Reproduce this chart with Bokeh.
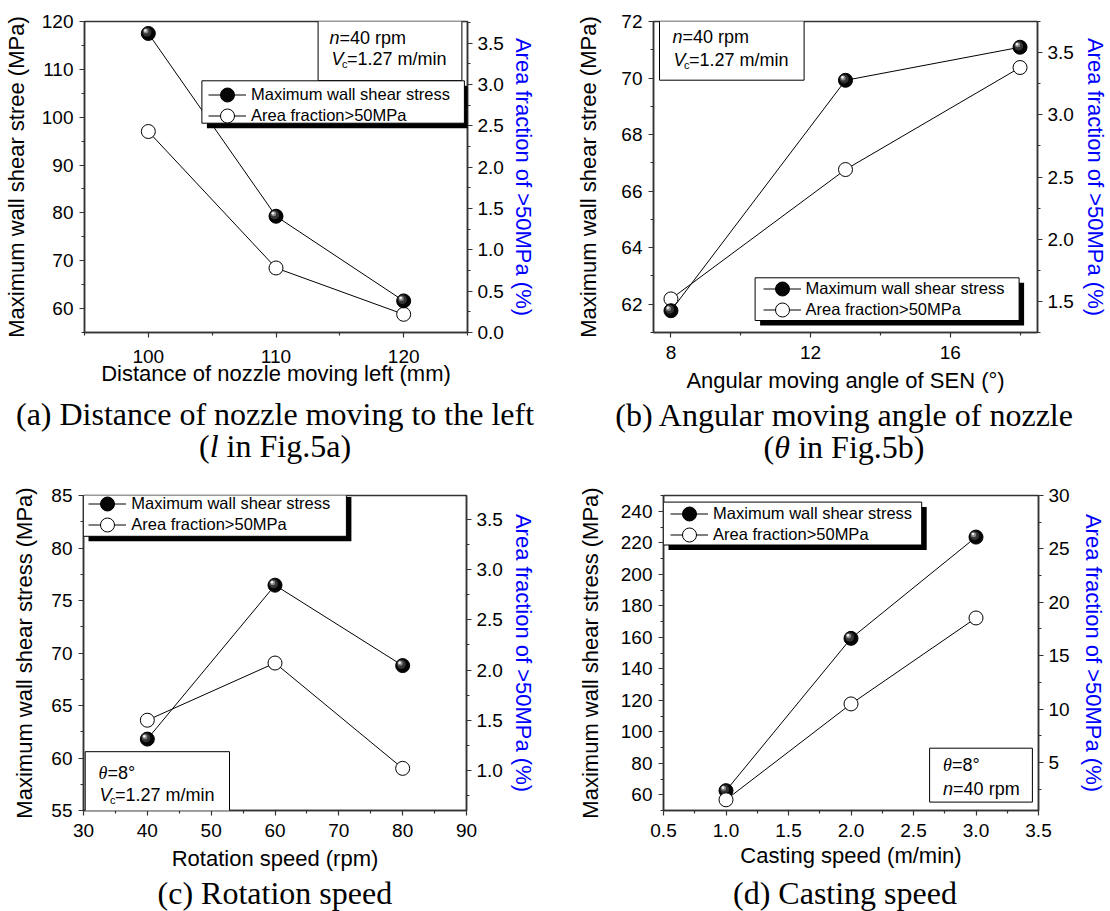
from bokeh.plotting import figure
from bokeh.models import (Range1d, LinearAxis, FixedTicker, PrintfTickFormatter, Legend,
                          LegendItem, BoxAnnotation, Label)
from bokeh.layouts import column, row
from bokeh.embed import file_html
from bokeh.resources import INLINE

# ---------------- data ----------------
a_x = [100, 110, 120]
a_stress = [117.5, 79.3, 61.6]
a_area = [2.43, 0.78, 0.22]

b_x = [8, 13, 18]
b_stress = [61.77, 69.92, 71.09]
b_area = [1.52, 2.56, 3.38]

c_x = [40, 60, 80]
c_stress = [61.8, 76.46, 68.8]
c_area = [1.50, 2.07, 1.02]

d_x = [1.0, 2.0, 3.0]
d_stress = [62.6, 159.3, 223.6]
d_area = [1.5, 10.48, 18.53]

LEG1 = "Maximum wall shear stress"
LEG2 = "Area fraction>50MPa"
RIGHT_LABEL = "Area fraction of >50MPa (%)"

SANS = "Liberation Sans"
SERIF = "Liberation Serif"
AXC = "#333333"


def frange(a, b, s):
    out = []
    v = a
    while v <= b + 1e-9:
        out.append(round(v, 6))
        v += s
    return out


def style_axis(ax, ticks, minor, fmt, label, color="black", lstand=5, astand=5):
    ax.ticker = FixedTicker(ticks=ticks, minor_ticks=minor)
    ax.formatter = PrintfTickFormatter(format=fmt)
    ax.axis_label = label
    ax.axis_line_color = AXC
    ax.axis_line_width = 1.5
    ax.major_tick_line_color = AXC
    ax.major_tick_line_width = 1.2
    ax.minor_tick_line_color = AXC
    ax.minor_tick_line_width = 1.2
    ax.major_tick_out = 5
    ax.major_tick_in = 0
    ax.minor_tick_out = 3
    ax.minor_tick_in = 0
    ax.major_label_text_font = SANS
    ax.major_label_text_font_size = "19px"
    ax.major_label_text_color = "black"
    ax.major_label_standoff = lstand
    ax.axis_label_text_font = SANS
    ax.axis_label_text_font_size = "22px"
    ax.axis_label_text_font_style = "normal"
    ax.axis_label_text_color = color
    ax.axis_label_standoff = astand


def lab(p, x, y, text, size="18px", font=SANS, style="normal", align="left",
        baseline="middle", units="screen"):
    p.add_layout(Label(x=x, y=y, x_units=units, y_units=units, text=text,
                       text_font=font, text_font_size=size, text_font_style=style,
                       text_align=align, text_baseline=baseline, text_color="black"))


def boxann(p, l, r, b, t, fill="white", line=True):
    p.add_layout(BoxAnnotation(left=l, right=r, bottom=b, top=t,
                               left_units="screen", right_units="screen",
                               bottom_units="screen", top_units="screen",
                               fill_color=fill, fill_alpha=1.0,
                               line_color="black" if line else None,
                               line_width=1.0, line_alpha=1.0 if line else 0.0,
                               level="annotation"))


def note(p, x, y, kind):
    if kind == "n":
        lab(p, x, y, "n", style="italic")
        lab(p, x + 10, y, "=40 rpm")
    elif kind == "vc":
        lab(p, x, y, "V", style="italic")
        lab(p, x + 10.5, y - 5, "c", size="11px")
        lab(p, x + 15.5, y, "=1.27 m/min")
    elif kind == "theta":
        lab(p, x, y, "\u03b8", font=SERIF, style="italic")
        lab(p, x + 9, y, "=8\u00b0")


def panel(cfg):
    p = figure(width=cfg["W"], height=cfg["H"],
               x_range=Range1d(*cfg["xr"]), y_range=Range1d(*cfg["yr"]),
               output_backend="svg", toolbar_location=None,
               min_border_left=cfg["bl"], min_border_right=cfg["br"],
               min_border_top=cfg["bt"], min_border_bottom=cfg["bb"])
    p.extra_y_ranges = {"right": Range1d(*cfg["yr2"])}
    p.grid.visible = False
    p.outline_line_color = AXC
    p.outline_line_width = 1.5
    p.background_fill_color = "white"
    p.border_fill_color = "white"

    style_axis(p.xaxis[0], cfg["xt"], cfg["xm"], cfg["xf"], cfg["xlabel"],
               lstand=cfg["xls"], astand=cfg["xas"])
    style_axis(p.yaxis[0], cfg["yt"], cfg["ym"], cfg["yf"], cfg["ylabel"],
               lstand=6, astand=cfg["yas"])
    rax = LinearAxis(y_range_name="right")
    style_axis(rax, cfg["rt"], cfg["rm"], cfg["rf"], RIGHT_LABEL, color="#0000ff",
               lstand=5, astand=cfg["ras"])
    p.add_layout(rax, "right")

    xs, ys, ar = cfg["x"], cfg["s"], cfg["a"]
    fw = cfg["W"] - cfg["bl"] - cfg["br"]
    fh = cfg["H"] - cfg["bt"] - cfg["bb"]
    pxx = (cfg["xr"][1] - cfg["xr"][0]) / fw
    pxy = (cfg["yr"][1] - cfg["yr"][0]) / fh

    l2 = p.line(xs, ar, y_range_name="right", line_color="black", line_width=1)
    l1 = p.line(xs, ys, line_color="black", line_width=1)

    def balls():
        b = p.scatter(xs, ys, marker="circle", size=14, fill_color="#050505",
                      line_color="black", line_width=1)
        for off, sz, col in [(1.4, 9, "#353535"), (2.4, 5, "#8a8a8a"), (3.0, 2.6, "#f2f2f2")]:
            p.scatter([v - off * pxx for v in xs], [v + off * pxy for v in ys],
                      marker="circle", size=sz, fill_color=col, line_color=None)
        return b

    def circs():
        return p.scatter(xs, ar, y_range_name="right", marker="circle", size=14,
                         fill_color="white", line_color="black", line_width=1)

    if cfg.get("circ_on_top"):
        b1 = balls()
        c1 = circs()
    else:
        c1 = circs()
        b1 = balls()

    # notes box
    tl, tr, tb, tt = cfg["tbox"]
    boxann(p, tl, tr, tb, tt)
    for (nx, ny, kind) in cfg["notes"]:
        note(p, nx, ny, kind)

    # legend shadow + box
    gl, gr, gb, gt = cfg["lbox"]
    boxann(p, gl + 5, gr + 5, gb - 5, gt - 5, fill="black", line=False)
    boxann(p, gl, gr, gb, gt)
    lx, ly1, ly2 = cfg["lloc"]
    for label, rends, ly in [(LEG1, [l1, b1], ly1), (LEG2, [l2, c1], ly2)]:
        leg = Legend(items=[LegendItem(label=label, renderers=rends)],
                     location=(lx, ly), orientation="vertical",
                     glyph_width=38, glyph_height=35, spacing=0, padding=0, margin=0,
                     label_standoff=5, label_height=20,
                     label_text_font=SANS, label_text_font_size="16.5px",
                     label_text_color="black",
                     border_line_alpha=0, background_fill_alpha=0)
        p.add_layout(leg)
    return p


def caption_fig(h, items):
    p = figure(width=1110, height=h, x_range=Range1d(0, 1110), y_range=Range1d(h, 0),
               output_backend="svg", toolbar_location=None,
               min_border_left=0, min_border_right=0, min_border_top=0, min_border_bottom=0)
    p.axis.visible = False
    p.grid.visible = False
    p.outline_line_color = None
    p.background_fill_color = "white"
    p.border_fill_color = "white"
    for (x, y, text, style, align) in items:
        lab(p, x, y, text, size="32px", font=SERIF, style=style, align=align, units="data")
    return p


cfg_a = dict(W=555, H=395, bl=84, br=88, bt=21, bb=59,
             xr=(95, 125), yr=(55, 120), yr2=(0, 3.76),
             xt=a_x, xm=[95, 105, 115, 125], xf="%d",
             yt=frange(60, 120, 10), ym=frange(55, 115, 10), yf="%d",
             rt=frange(0, 3.5, 0.5), rm=frange(0.25, 3.75, 0.5), rf="%.1f",
             xlabel="Distance of nozzle moving left (mm)",
             ylabel="Maximum wall shear stree (MPa)",
             xls=12, xas=-5, yas=10, ras=4,
             x=a_x, s=a_stress, a=a_area,
             tbox=(233.6, 377.4, 252, 312),
             notes=[(245, 294.3, "n"), (247, 273.7, "vc")],
             lbox=(117.4, 379.9, 209.3, 251.7), lloc=(124, 219.8, 198.8))

cfg_b = dict(W=555, H=395, bl=98, br=73, bt=16, bb=62,
             xr=(7.5, 18.5), yr=(61, 72), yr2=(1.25, 3.75),
             xt=[8, 12, 16], xm=[10, 14, 18], xf="%d",
             yt=frange(62, 72, 2), ym=frange(61, 71, 2), yf="%d",
             rt=frange(1.5, 3.5, 0.5), rm=frange(1.25, 3.75, 0.5), rf="%.1f",
             xlabel="Angular moving angle of SEN (\u00b0)",
             ylabel="Maximum wall shear stree (MPa)",
             xls=8, xas=6, yas=17, ras=6,
             x=b_x, s=b_stress, a=b_area,
             tbox=(6, 150.6, 252.3, 313),
             notes=[(19, 295.7, "n"), (20, 273, "vc")],
             lbox=(101.6, 365.6, 12, 54.7), lloc=(109.5, 26.2, 4.8))

cfg_c = dict(W=555, H=408, bl=83, br=89, bt=22, bb=61,
             xr=(30, 90), yr=(55, 85), yr2=(0.6, 3.74),
             xt=frange(30, 90, 10), xm=frange(35, 85, 10), xf="%d",
             yt=frange(55, 85, 5), ym=frange(57.5, 82.5, 5), yf="%d",
             rt=frange(1.0, 3.5, 0.5), rm=frange(0.75, 3.75, 0.5), rf="%.1f",
             xlabel="Rotation speed (rpm)",
             ylabel="Maximum wall shear stress (MPa)",
             xls=8, xas=6, yas=11, ras=5,
             x=c_x, s=c_stress, a=c_area,
             tbox=(1.7, 146, -5.8, 58.8),
             notes=[(14.9, 38, "theta"), (16, 15.3, "vc")],
             lbox=(0, 262.9, 274.2, 318.4), lloc=(5.3, 289.2, 268.1))

cfg_d = dict(W=555, H=408, bl=108, br=72, bt=30, bb=63,
             xr=(0.5, 3.5), yr=(50, 250), yr2=(0.5, 30),
             xt=frange(0.5, 3.5, 0.5), xm=frange(0.75, 3.25, 0.5), xf="%.1f",
             yt=frange(60, 240, 20), ym=frange(50, 250, 20), yf="%d",
             rt=frange(5, 30, 5), rm=frange(2.5, 27.5, 5), rf="%d",
             xlabel="Casting speed (m/min)",
             ylabel="Maximum wall shear stress (MPa)",
             xls=8, xas=3, yas=15, ras=8,
             x=d_x, s=d_stress, a=d_area, circ_on_top=True,
             tbox=(266.1, 368.9, 8.4, 62.3),
             notes=[(279.6, 45.2, "theta"), (279.6, 21.8, "n")],
             lbox=(0, 258.2, 265.5, 308.4), lloc=(7.1, 279.1, 258.4))

pa = panel(cfg_a)
pb = panel(cfg_b)
pc = panel(cfg_c)
pd_ = panel(cfg_d)

cap_top = caption_fig(70, [
    (274.5, 18, "(a) Distance of nozzle moving to the left", "normal", "center"),
    (198.5, 50, "(", "normal", "left"),
    (209.2, 50, "l", "italic", "left"),
    (226.1, 50, "in Fig.5a)", "normal", "left"),
    (844.5, 19.5, "(b) Angular moving angle of nozzle", "normal", "center"),
    (763.0, 51, "(", "normal", "left"),
    (773.7, 51, "\u03b8", "italic", "left"),
    (797.7, 51, "in Fig.5b)", "normal", "left"),
])
cap_bot = caption_fig(38, [
    (274.4, 19, "(c) Rotation speed", "normal", "center"),
    (844.5, 19.5, "(d) Casting speed", "normal", "center"),
])

layout = column(row(pa, pb, spacing=0), cap_top,
                row(pc, pd_, spacing=0), cap_bot, spacing=0)
open("out.html", "w").write(file_html(layout, INLINE))
